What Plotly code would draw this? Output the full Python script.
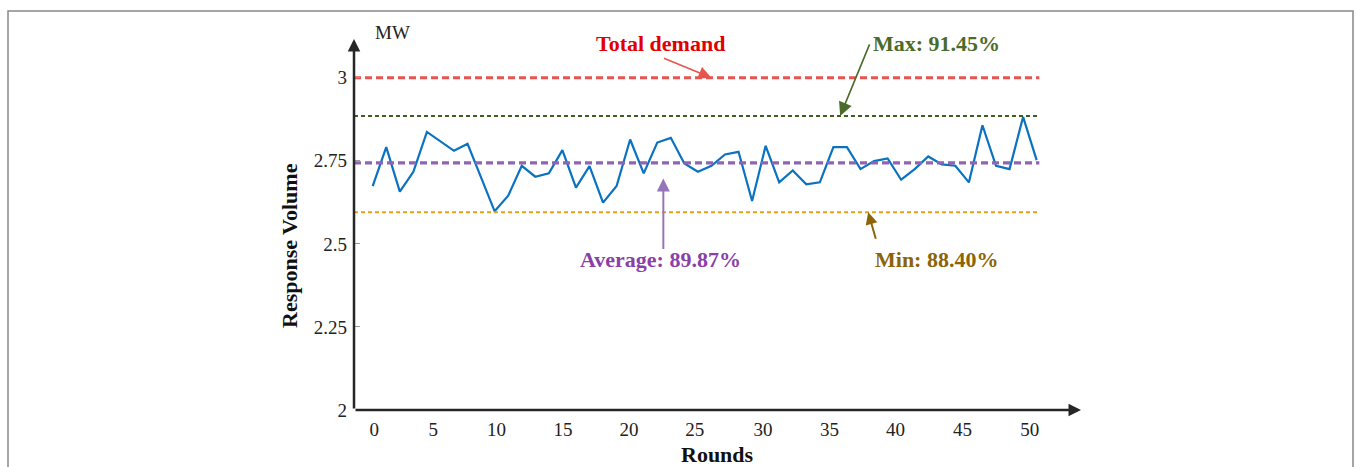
import plotly.graph_objects as go

W, H = 1356, 467

# ---------------- data ----------------
ROUNDS = list(range(50))
RESPONSE = [2.674, 2.791, 2.657, 2.717, 2.837, 2.809, 2.780, 2.801, 2.700, 2.598,
            2.645, 2.735, 2.702, 2.712, 2.782, 2.669, 2.734, 2.624, 2.674, 2.814,
            2.712, 2.805, 2.819, 2.742, 2.717, 2.735, 2.769, 2.777, 2.629, 2.795,
            2.685, 2.721, 2.679, 2.685, 2.791, 2.791, 2.725, 2.749, 2.757, 2.693,
            2.725, 2.763, 2.739, 2.735, 2.685, 2.857, 2.735, 2.725, 2.882, 2.752]

TOTAL_DEMAND = 3.0
MAX_LEVEL = 2.885
AVG_LEVEL = 2.744
MIN_LEVEL = 2.595

XTICK_LABELS = ["0", "5", "10", "15", "20", "25", "30", "35", "40", "45", "50"]
YTICK_VALUES = [2, 2.25, 2.5, 2.75, 3]
YTICK_LABELS = ["2", "2.25", "2.5", "2.75", "3"]

# ---------------- layout helpers ----------------
XTICK_POS = [0.12, 4.47, 9.13, 14.04, 18.92, 23.76, 28.80, 33.72, 38.59, 43.52, 48.49]
X_RANGE = [-1.38, 52.2]
Y_RANGE = [2, 3.1165]
LINE_END = 49.2

def px(x):
    return x / W

def py(y):
    return 1 - y / H

SERIF = "Liberation Serif, Times New Roman, serif"

fig = go.Figure()

fig.add_trace(go.Scatter(x=ROUNDS, y=RESPONSE, mode="lines",
                         line=dict(color="#0A72C0", width=2.2), hoverinfo="skip"))

ref_lines = [
    (TOTAL_DEMAND, "#E8544E", 3, "7px,4px"),
    (MAX_LEVEL, "#3E5F1F", 2, "4px,3px"),
    (MIN_LEVEL, "#E3A21A", 2, "4px,3px"),
    (AVG_LEVEL, "#9063B3", 3.2, "7px,4px"),
]
for val, col, wd, dash in ref_lines:
    fig.add_trace(go.Scatter(x=[X_RANGE[0], LINE_END], y=[val, val], mode="lines",
                             line=dict(color=col, width=wd, dash=dash), hoverinfo="skip"))

annotations = []

# axis arrows
AX_COL = "#262626"
annotations.append(dict(xref="paper", yref="paper", x=px(354), y=py(39), ax=0, ay=371,
                        text="", showarrow=True, arrowhead=2, arrowsize=1.0,
                        arrowwidth=2.5, arrowcolor=AX_COL, standoff=0))
annotations.append(dict(xref="paper", yref="paper", x=px(1081), y=py(410), ax=-727, ay=0,
                        text="", showarrow=True, arrowhead=2, arrowsize=1.0,
                        arrowwidth=2.5, arrowcolor=AX_COL, standoff=0))

# axis titles
annotations.append(dict(xref="paper", yref="paper", x=px(392), y=py(33), text="MW",
                        showarrow=False, font=dict(family=SERIF, size=19, color="#222"),
                        xanchor="center", yanchor="middle"))
annotations.append(dict(xref="paper", yref="paper", x=px(289), y=py(246), text="<b>Response Volume</b>",
                        showarrow=False, textangle=-90,
                        font=dict(family=SERIF, size=22, color="#111"),
                        xanchor="center", yanchor="middle"))
annotations.append(dict(xref="paper", yref="paper", x=px(717), y=py(454), text="<b>Rounds</b>",
                        showarrow=False, font=dict(family=SERIF, size=22, color="#111"),
                        xanchor="center", yanchor="middle"))

# labels
labels = [
    ("Total demand", 660, 43, "#E00000"),
    ("Max: 91.45%", 937, 43, "#4B6B2A"),
    ("Average: 89.87%", 660, 259, "#8B3FA8"),
    ("Min: 88.40%", 936, 259, "#8B6508"),
]
for txt, x, y, col in labels:
    annotations.append(dict(xref="paper", yref="paper", x=px(x), y=py(y), text="<b>" + txt + "</b>",
                            showarrow=False, font=dict(family=SERIF, size=22, color=col),
                            xanchor="center", yanchor="middle"))

# pointer arrows (tip in data coords, tail offset in pixels)
pointers = [
    (25.0, TOTAL_DEMAND, -49, -20, "#E8544E", 1.6, 1.6),
    (34.5, MAX_LEVEL, 30, -73, "#4B6B2A", 1.6, 1.7),
    (21.45, 2.697, 0, 72, "#9575BA", 2.0, 1.3),
    (36.57, MIN_LEVEL, 8, 28, "#8B6508", 2.0, 1.2),
]
for x, y, ax, ay, col, wd, sz in pointers:
    annotations.append(dict(xref="x", yref="y", x=x, y=y, ax=ax, ay=ay, text="",
                            showarrow=True, arrowhead=2, arrowsize=sz, arrowwidth=wd,
                            arrowcolor=col, standoff=0))

fig.update_layout(
    width=W, height=H,
    margin=dict(l=0, r=0, t=0, b=0, autoexpand=False),
    paper_bgcolor="white", plot_bgcolor="white",
    showlegend=False,
    annotations=annotations,
    shapes=[dict(type="rect", xref="paper", yref="paper",
                 x0=px(8), y0=py(480), x1=px(1353), y1=py(11),
                 line=dict(color="#888888", width=1.5), layer="below")],
    xaxis=dict(domain=[px(354), px(1080)], range=X_RANGE, showgrid=False, zeroline=False,
               showline=False, tickmode="array", tickvals=XTICK_POS, ticktext=XTICK_LABELS,
               ticks="", ticklabelstandoff=6, automargin=False,
               tickfont=dict(family=SERIF, size=19, color="#222")),
    yaxis=dict(domain=[py(410), py(39)], range=Y_RANGE, showgrid=False, zeroline=False,
               showline=False, tickmode="array", tickvals=YTICK_VALUES, ticktext=YTICK_LABELS,
               ticks="inside", ticklen=6, tickwidth=1, tickcolor="#999999",
               ticklabelstandoff=6, automargin=False,
               tickfont=dict(family=SERIF, size=19, color="#222")),
)

fig.write_html("out.html")
